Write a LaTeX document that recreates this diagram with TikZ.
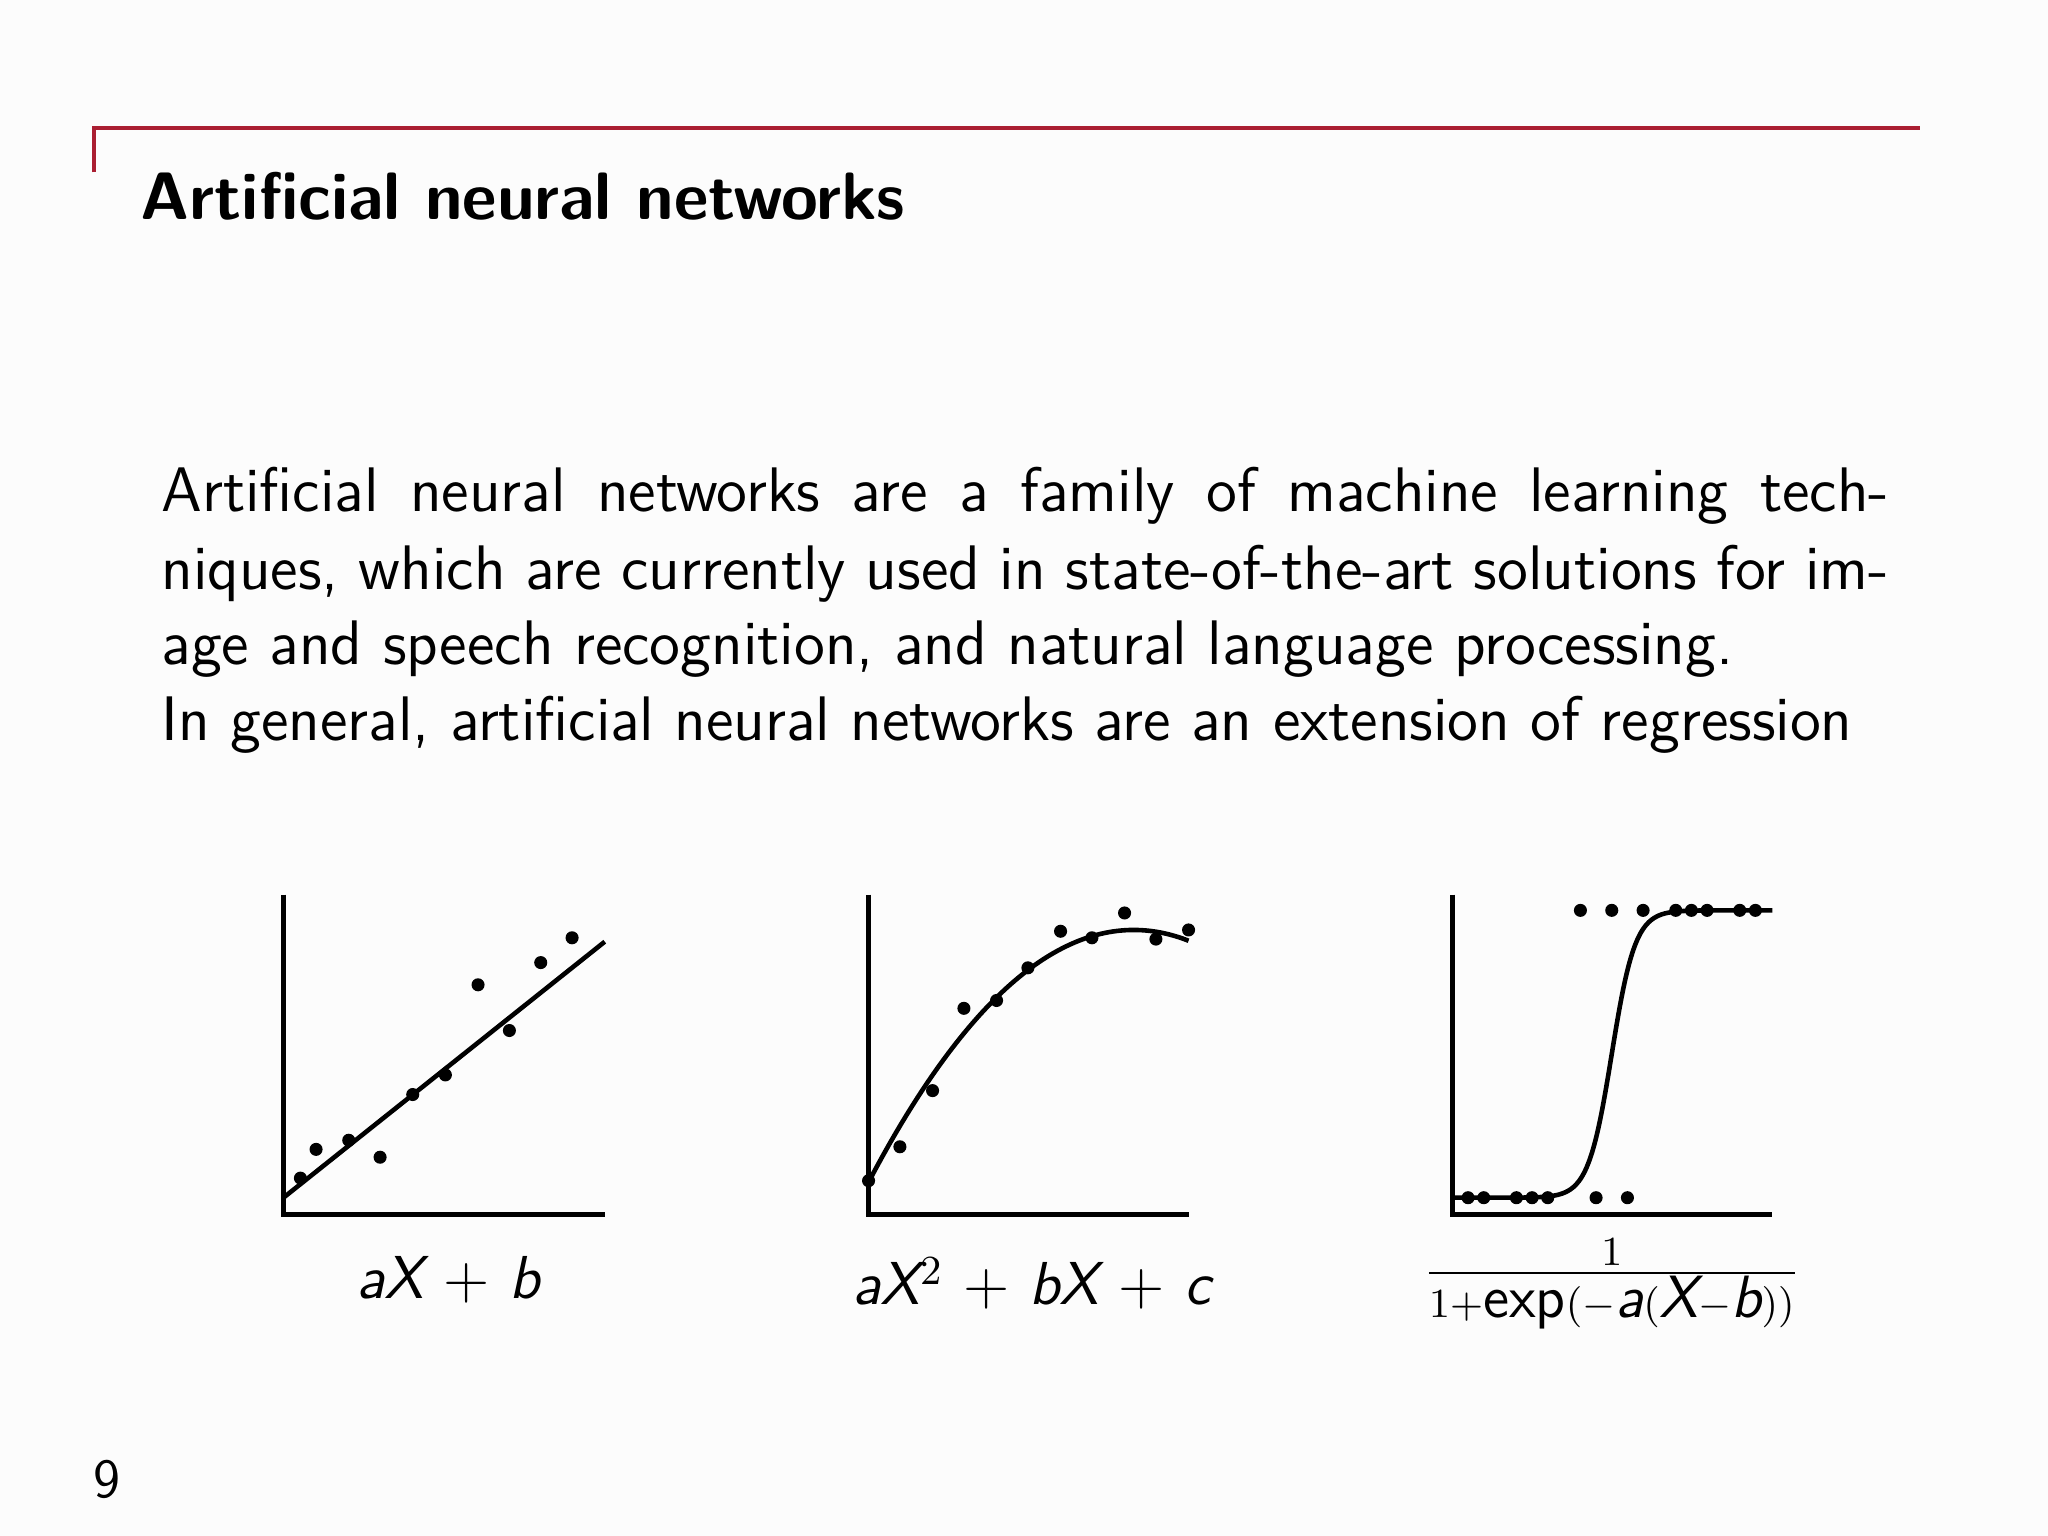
\documentclass[tikz,border=0pt]{standalone}
\usepackage{fontspec}
\begin{document}
\begin{tikzpicture}[x=0.01cm,y=-0.01cm,
  ln/.style={line width=1.0pt},
  body/.style={anchor=base west,inner sep=0pt,font=\sffamily\fontsize{13.7}{16}\selectfont}]
\fill[black!1] (0,0) rectangle (1568,1176);
\useasboundingbox (0,0) rectangle (1568,1176);
\definecolor{bred}{RGB}{170,30,50}
\draw[bred,line width=0.8pt] (72,132) -- (72,98) -- (1470,98);
\node[anchor=base west,inner sep=0pt,font=\sffamily\bfseries\fontsize{14.6}{18}\selectfont] (title) at (107,168) {Artificial neural networks};
\node[body] (l1) at (123,392) {\makebox[13.22cm][s]{Artificial neural networks are a family of machine learning tech-}};
\node[body] (l2) at (123,451) {\makebox[13.22cm][s]{niques, which are currently used in state-of-the-art solutions for im-}};
\node[body] (l3) at (123,509) {age and speech recognition, and natural language processing.};
\node[body] (l4) at (123,567) {In general, artificial neural networks are an extension of regression};
% panel 1
\draw[ln] (217,685) -- (217,930) -- (463,930);
\draw[ln] (217,917) -- (463,721);
\foreach \x/\y in {230/902,242/880,267/873,291/886,316/838,341/823,366/754,390/789,414/737,438/718}
  \fill (\x,\y) circle (5);
\node[font=\sffamily\fontsize{13.2}{16}\selectfont] (lab1) at (343,980) {\itshape aX\upshape\ + \itshape b};
% panel 2
\draw[ln] (665,685) -- (665,930) -- (910,930);
\draw[ln,domain=665:910,samples=60,smooth] plot (\x,{712+0.004683*(\x-868)*(\x-868)});
\foreach \x/\y in {665/904,689/878,714/835,738/772,763/766,787/741,812/713,836/718,861/699,885/719,910/712}
  \fill (\x,\y) circle (5);
\node[font=\sffamily\fontsize{13.2}{16}\selectfont] (lab2) at (790,983) {\itshape aX\upshape$^2$ + \itshape bX\upshape\ + \itshape c};
% panel 3
\draw[ln] (1112,685) -- (1112,930) -- (1357,930);
\draw[ln,domain=1112:1357,samples=120,smooth] plot (\x,{917-220/(1+exp(-max(-9,min(9,(\x-1234)/9))))});
\foreach \x in {1124,1136,1161,1173,1185,1222,1246} \fill (\x,917) circle (5);
\foreach \x in {1210,1234,1258,1283,1295,1307,1332,1344} \fill (\x,697) circle (5);
\node[font=\sffamily\fontsize{13}{15}\selectfont] (lab3) at (1234,983) {$\frac{1}{1+\textsf{exp}(-\textsf{\itshape a}(\textsf{\itshape X}-\textsf{\itshape b}))}$};
\node[font=\sffamily\fontsize{12}{14}\selectfont] (pg) at (82,1133) {9};
\end{tikzpicture}
\end{document}
